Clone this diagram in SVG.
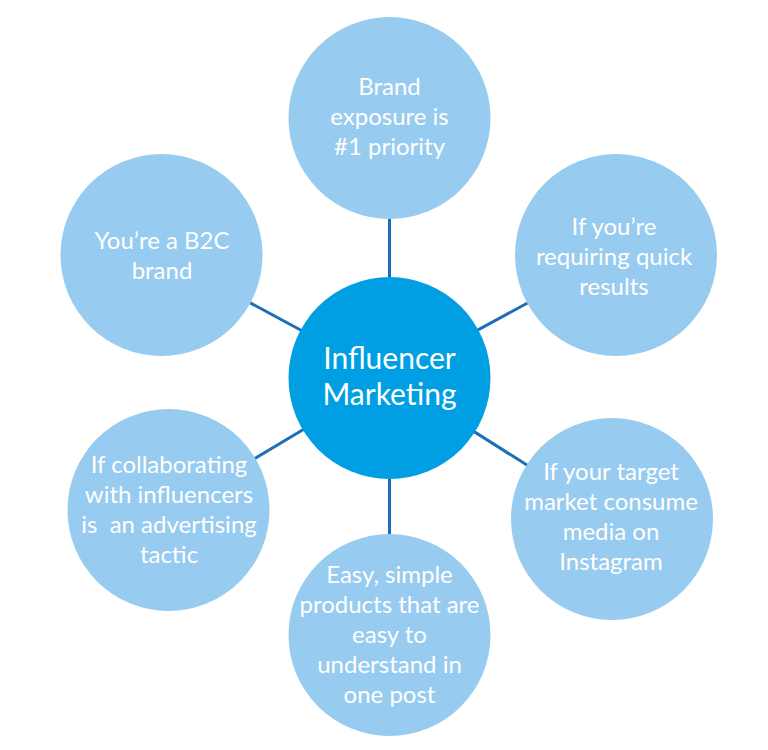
<svg xmlns="http://www.w3.org/2000/svg" width="768" height="750" viewBox="0 0 768 750">
<style>
.outer{fill:#97cbef}
.hub{fill:#009fe3}
.t{font-family:Lato,"Open Sans","Liberation Sans",sans-serif;font-size:24px;fill:#ffffff;text-anchor:middle}
.th{font-family:Lato,"Open Sans","Liberation Sans",sans-serif;font-size:30px;fill:#ffffff;text-anchor:middle}
.c{stroke:#1c6fb7;stroke-width:3;fill:none}
</style>
<rect width="768" height="750" fill="#ffffff"/>
<g id="connectors">
<line class="c" x1="389.5" y1="378" x2="389.5" y2="118"/>
<line class="c" x1="389.5" y1="378" x2="616" y2="255"/>
<line class="c" x1="389.5" y1="378" x2="612" y2="519"/>
<line class="c" x1="389.5" y1="378" x2="389.5" y2="635"/>
<line class="c" x1="389.5" y1="378" x2="168.5" y2="510"/>
<line class="c" x1="389.5" y1="378" x2="161.5" y2="255"/>
</g>
<g id="hub">
<circle class="hub" cx="389.5" cy="378" r="101"/>
<text class="th" x="389.5" y="369">Influencer</text>
<text class="th" x="389.5" y="405">Marketing</text>
</g>
<g id="node-top">
<circle class="outer" cx="389.5" cy="118" r="101"/>
<text class="t" x="389.5" y="95">Brand</text>
<text class="t" x="389.5" y="125">exposure is</text>
<text class="t" x="389.5" y="155">#1 priority</text>
</g>
<g id="node-top-right">
<circle class="outer" cx="616" cy="255" r="101"/>
<text class="t" x="614" y="235">If you’re</text>
<text class="t" x="614" y="265">requiring quick</text>
<text class="t" x="614" y="295">results</text>
</g>
<g id="node-bottom-right">
<circle class="outer" cx="612" cy="519" r="101"/>
<text class="t" x="611" y="480">If your target</text>
<text class="t" x="611" y="510">market consume</text>
<text class="t" x="611" y="540">media on</text>
<text class="t" x="611" y="570">Instagram</text>
</g>
<g id="node-bottom">
<circle class="outer" cx="389.5" cy="635" r="101"/>
<text class="t" x="389.5" y="583">Easy, simple</text>
<text class="t" x="389.5" y="613">products that are</text>
<text class="t" x="389.5" y="643">easy to</text>
<text class="t" x="389.5" y="673">understand in</text>
<text class="t" x="389.5" y="703">one post</text>
</g>
<g id="node-bottom-left">
<circle class="outer" cx="168.5" cy="510" r="101"/>
<text class="t" x="169" y="473">If collaborating</text>
<text class="t" x="169" y="503">with influencers</text>
<text class="t" x="169" y="533" xml:space="preserve">is  an advertising</text>
<text class="t" x="169" y="563">tactic</text>
</g>
<g id="node-top-left">
<circle class="outer" cx="161.5" cy="255" r="101"/>
<text class="t" x="162" y="249">You’re a B2C</text>
<text class="t" x="162" y="279">brand</text>
</g>
</svg>
